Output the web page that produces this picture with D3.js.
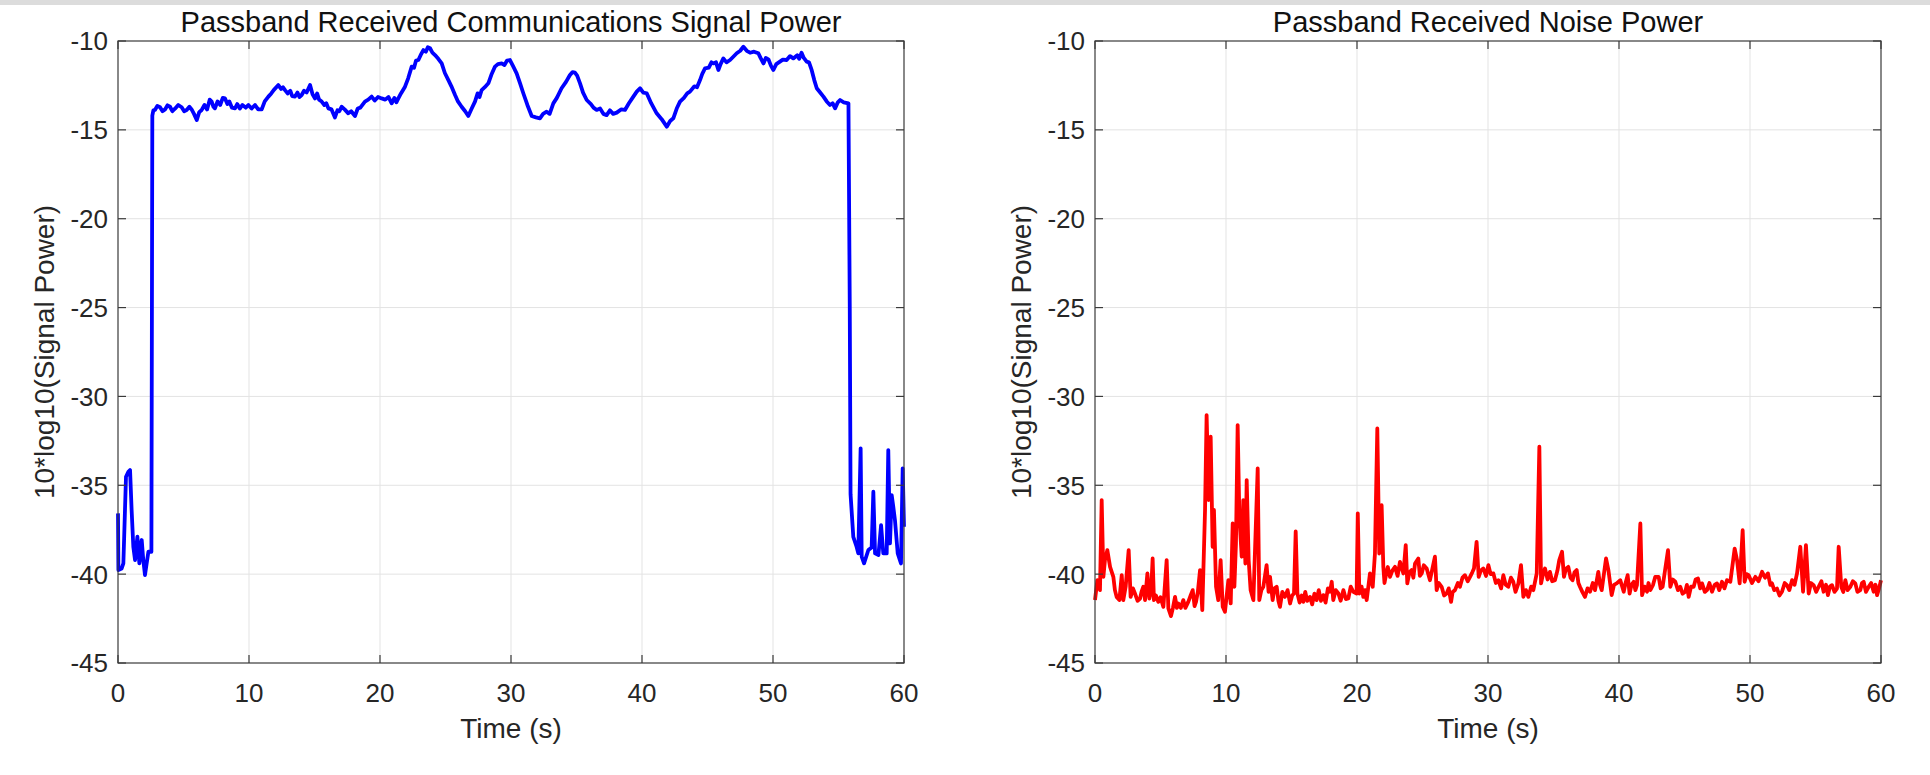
<!DOCTYPE html>
<html>
<head>
<meta charset="utf-8">
<script src="https://cdn.jsdelivr.net/npm/d3@7"></script>
<style>
	body { margin: 0; background: #fff; }
	svg { display: block; font-family: "Liberation Sans", Arial, Helvetica, sans-serif; }
	.grid line { stroke: #e3e3e3; stroke-width: 1; }
	.frame { fill: none; stroke: #3a3a3a; stroke-width: 1.2; }
	.tick-mark { stroke: #3a3a3a; stroke-width: 1.2; }
	.tick-label { fill: #262626; font-size: 26px; }
	.axis-label { fill: #262626; font-size: 28px; }
	.chart-title { fill: #111; font-size: 29px; }
</style>
</head>
<body>
<svg id="figure" width="1930" height="775"></svg>
<script>
var xTicks = [0, 10, 20, 30, 40, 50, 60];
var yTicks = [-10, -15, -20, -25, -30, -35, -40, -45];
var titles = ["Passband Received Communications Signal Power", "Passband Received Noise Power"];
var xLabel = "Time (s)";
var yLabel = "10*log10(Signal Power)";

// communications signal [time s, dB]
var signalPoints = [
	[0, -36.58], [0.03, -39.77], [0.28, -39.68], [0.41, -39.39], [0.61, -34.52], [0.79, -34.24], [0.92, -34.14], [1.04, -36.39],
	[1.17, -38.46], [1.30, -39.21], [1.48, -37.89], [1.63, -39.39], [1.81, -38.08], [1.93, -39.21], [2.06, -40.05], [2.19, -39.39],
	[2.32, -38.74], [2.55, -38.74], [2.62, -14.2],
	[2.70, -13.9], [2.82, -13.88], [3.0, -13.65], [3.21, -13.73], [3.4, -13.95], [3.59, -13.85], [3.78, -13.62], [3.97, -13.7],
	[4.15, -13.95], [4.35, -13.81], [4.6, -13.6], [4.86, -13.73], [5.05, -13.95], [5.24, -13.88], [5.45, -13.7], [5.62, -13.85],
	[5.8, -14.1], [6.01, -14.45], [6.2, -14.0], [6.39, -13.88], [6.6, -13.6], [6.8, -13.85], [7.0, -13.3], [7.15, -13.41],
	[7.28, -13.7], [7.40, -13.79], [7.6, -13.4], [7.8, -13.6], [8.0, -13.2], [8.17, -13.23], [8.35, -13.55], [8.5, -13.4],
	[8.7, -13.75], [8.93, -13.79], [9.1, -13.55], [9.3, -13.8], [9.5, -13.6], [9.75, -13.75], [9.95, -13.6], [10.2, -13.8],
	[10.46, -13.6], [10.7, -13.85], [10.97, -13.85], [11.2, -13.4], [11.48, -13.13], [11.7, -12.95], [11.9, -12.75], [12.24, -12.48],
	[12.45, -12.7], [12.6, -12.6], [12.75, -12.76], [12.95, -12.95], [13.15, -12.8], [13.3, -13.1], [13.51, -13.13], [13.7, -12.9],
	[13.85, -13.15], [14.02, -13.04], [14.2, -12.8], [14.4, -12.9], [14.66, -12.48], [14.85, -13.0], [15.04, -13.23], [15.2, -12.95],
	[15.35, -13.3], [15.55, -13.41], [15.75, -13.6], [15.9, -13.5], [16.06, -13.79], [16.3, -13.85], [16.56, -14.3], [16.75, -13.9],
	[16.9, -13.95], [17.07, -13.7], [17.3, -13.85], [17.58, -14.07], [17.8, -13.95], [18.09, -14.22], [18.3, -13.8], [18.5, -13.75],
	[18.85, -13.41], [19.1, -13.3], [19.36, -13.13], [19.6, -13.35], [19.85, -13.15], [20.13, -13.23], [20.4, -13.3], [20.65, -13.15],
	[20.89, -13.51], [21.1, -13.2], [21.25, -13.45], [21.40, -13.23], [21.6, -12.95], [21.91, -12.57], [22.15, -12.1], [22.42, -11.44],
	[22.6, -11.5], [22.75, -11.1], [22.93, -11.07], [23.1, -10.8], [23.31, -10.51], [23.5, -10.6], [23.65, -10.35], [23.82, -10.41],
	[24.0, -10.65], [24.20, -10.79], [24.45, -11.0], [24.71, -11.26], [24.95, -11.8], [25.22, -12.2], [25.45, -12.55], [25.73, -13.04],
	[25.95, -13.4], [26.23, -13.7], [26.5, -13.95], [26.74, -14.22], [27.0, -13.8], [27.25, -13.41], [27.45, -12.95], [27.6, -13.15],
	[27.76, -12.76], [28.0, -12.6], [28.27, -12.38], [28.5, -11.9], [28.78, -11.44], [29.0, -11.3], [29.29, -11.26], [29.5, -11.35],
	[29.7, -11.1], [29.92, -11.07], [30.15, -11.4], [30.43, -11.82], [30.7, -12.4], [30.94, -12.94], [31.25, -13.6], [31.58, -14.22],
	[31.9, -14.3], [32.21, -14.35], [32.45, -14.1], [32.72, -13.98], [32.95, -14.1], [33.23, -13.51], [33.5, -13.2], [33.86, -12.66],
	[34.2, -12.3], [34.50, -11.91], [34.7, -11.75], [34.88, -11.78], [35.05, -11.95], [35.27, -12.38], [35.5, -12.9], [35.78, -13.32],
	[36.1, -13.55], [36.3, -13.75], [36.54, -13.88], [36.8, -13.8], [37.05, -14.1], [37.30, -14.17], [37.55, -13.9], [37.8, -14.1],
	[38.07, -14.03], [38.4, -13.85], [38.70, -13.88], [39.0, -13.5], [39.34, -13.13], [39.6, -12.85], [39.85, -12.66], [40.1, -12.9],
	[40.36, -12.94], [40.7, -13.5], [41.12, -14.07], [41.5, -14.4], [41.89, -14.82], [42.15, -14.5], [42.39, -14.35], [42.65, -13.8],
	[42.90, -13.41], [43.2, -13.2], [43.45, -12.95], [43.66, -12.85], [44.0, -12.55], [44.2, -12.6], [44.43, -12.2], [44.6, -11.85],
	[44.81, -11.54], [45.1, -11.5], [45.3, -11.2], [45.45, -11.26], [45.65, -11.2], [45.83, -11.63], [46.0, -11.3], [46.21, -10.98],
	[46.45, -11.2], [46.72, -11.07], [46.95, -10.9], [47.23, -10.69], [47.5, -10.55], [47.74, -10.32], [48.0, -10.55], [48.25, -10.66],
	[48.55, -10.6], [48.88, -10.69], [49.05, -10.95], [49.27, -11.26], [49.45, -10.95], [49.65, -11.03], [49.85, -11.4], [50.03, -11.63],
	[50.25, -11.3], [50.53, -11.16], [50.75, -11.05], [51.04, -11.07], [51.3, -10.85], [51.55, -10.98], [51.85, -10.8], [52.0, -11.0],
	[52.18, -10.66], [52.35, -10.95], [52.57, -11.16], [52.75, -11.2], [52.95, -11.63], [53.15, -12.2], [53.34, -12.66], [53.6, -12.9],
	[53.85, -13.13], [54.1, -13.4], [54.35, -13.6], [54.55, -13.5], [54.74, -13.79], [54.95, -13.45], [55.12, -13.32], [55.4, -13.45],
	[55.76, -13.51], [55.86, -25.0], [55.92, -35.5], [56.13, -37.9], [56.38, -38.46], [56.51, -38.83], [56.69, -32.92], [56.77, -39.02],
	[56.95, -39.39], [57.28, -38.64], [57.53, -38.5], [57.66, -35.36], [57.79, -38.83], [58.05, -38.92], [58.25, -37.24], [58.42, -38.83],
	[58.68, -38.83], [58.80, -33.02], [58.93, -38.27], [59.06, -35.55], [59.18, -36.2], [59.31, -36.96], [59.52, -38.83], [59.77, -39.4],
	[59.90, -34.05], [60, -37.33]
];

// noise [time s, dB]
var noisePoints = [
	[0, -41.46], [0.18, -40.34], [0.38, -40.9], [0.51, -35.83], [0.64, -40.15], [0.76, -39.21], [0.94, -38.65], [1.15, -39.59],
	[1.40, -40.15], [1.52, -40.9], [1.65, -41.28], [1.86, -41.46], [2.04, -40.06], [2.16, -41.46], [2.34, -40.71], [2.57, -38.65],
	[2.72, -41.28], [2.9, -40.8], [3.05, -41.09], [3.25, -41.5], [3.44, -41.37], [3.55, -41.0], [3.69, -40.71], [3.82, -41.46],
	[4.00, -39.96], [4.15, -41.37], [4.28, -41.0], [4.40, -39.12], [4.50, -41.46], [4.65, -41.2], [4.83, -41.56], [5.0, -41.3],
	[5.22, -41.84], [5.47, -39.21], [5.60, -41.93], [5.80, -42.36], [5.95, -41.9], [6.11, -41.28], [6.25, -41.9], [6.36, -41.65],
	[6.55, -41.9], [6.74, -41.46], [6.9, -41.9], [7.12, -41.56], [7.3, -41.2], [7.46, -40.9], [7.6, -41.8], [7.71, -41.56],
	[7.85, -41.0], [8.02, -39.77], [8.19, -42.03], [8.40, -36.39], [8.52, -31.05], [8.68, -35.83], [8.83, -32.27], [8.98, -38.46],
	[9.08, -36.39], [9.24, -40.71], [9.41, -41.46], [9.59, -39.21], [9.75, -41.84], [9.92, -42.12], [10.18, -40.34], [10.36, -41.65],
	[10.51, -37.15], [10.64, -40.71], [10.76, -38.27], [10.89, -31.61], [11.02, -36.77], [11.20, -39.02], [11.32, -35.83], [11.48, -39.4],
	[11.58, -34.71], [11.73, -39.21], [11.88, -40.9], [12.09, -41.46], [12.42, -34.05], [12.54, -41.46], [12.7, -40.9], [12.85, -40.71],
	[13.10, -39.49], [13.25, -41.0], [13.36, -40.15], [13.56, -41.46], [13.7, -40.8], [13.87, -40.71], [14.0, -41.5], [14.12, -41.84],
	[14.3, -41.0], [14.50, -41.28], [14.7, -40.9], [14.89, -41.65], [15.05, -41.2], [15.19, -41.09], [15.32, -37.6], [15.45, -41.09],
	[15.62, -41.6], [15.78, -41.2], [15.90, -41.56], [16.05, -41.0], [16.2, -41.5], [16.41, -41.28], [16.58, -41.7], [16.75, -41.1],
	[16.92, -41.46], [17.08, -40.9], [17.25, -41.5], [17.43, -41.18], [17.6, -41.6], [17.78, -40.8], [17.94, -40.99], [18.07, -40.43],
	[18.19, -41.46], [18.38, -40.9], [18.58, -41.09], [18.75, -41.5], [18.96, -40.9], [19.15, -41.4], [19.34, -41.37], [19.52, -40.7],
	[19.72, -40.99], [19.97, -41.09], [20.06, -36.58], [20.18, -41.09], [20.35, -40.7], [20.48, -41.28], [20.62, -40.9], [20.74, -41.46],
	[20.99, -39.96], [21.20, -40.71], [21.37, -38.84], [21.55, -31.8], [21.70, -38.84], [21.88, -36.12], [22.01, -39.59], [22.1, -40.5],
	[22.21, -40.06], [22.35, -39.6], [22.52, -40.15], [22.7, -39.8], [22.90, -39.59], [23.1, -40.1], [23.28, -39.31], [23.54, -39.96],
	[23.72, -38.37], [23.84, -40.52], [24.0, -39.9], [24.17, -39.77], [24.3, -40.2], [24.43, -39.4], [24.68, -39.12], [24.8, -40.1],
	[24.94, -39.96], [25.1, -39.5], [25.32, -39.68], [25.57, -40.34], [25.95, -39.02], [26.08, -40.9], [26.25, -40.5], [26.46, -40.71],
	[26.65, -41.2], [26.84, -41.09], [27.0, -40.8], [27.18, -41.56], [27.3, -41.0], [27.48, -40.9], [27.7, -40.5], [27.86, -40.71],
	[28.05, -40.2], [28.24, -40.06], [28.45, -40.4], [28.63, -40.15], [28.8, -39.9], [28.93, -39.68], [29.13, -38.18], [29.29, -40.15],
	[29.45, -39.8], [29.64, -39.68], [29.85, -40.1], [30.03, -39.49], [30.2, -40.0], [30.41, -39.96], [30.6, -40.5], [30.79, -40.34],
	[31.0, -40.8], [31.17, -40.06], [31.35, -40.6], [31.55, -40.71], [31.75, -40.2], [31.93, -40.43], [32.1, -41.0], [32.32, -40.52],
	[32.52, -39.49], [32.70, -41.28], [32.9, -40.9], [33.08, -41.28], [33.3, -40.7], [33.46, -40.9], [33.72, -39.96], [33.92, -32.83],
	[34.05, -40.52], [34.2, -40.0], [34.35, -39.68], [34.55, -40.3], [34.73, -39.87], [34.9, -40.4], [35.11, -40.34], [35.30, -39.8],
	[35.44, -39.21], [35.65, -38.74], [35.80, -40.15], [35.95, -39.7], [36.13, -39.59], [36.3, -40.2], [36.46, -40.34], [36.6, -39.9],
	[36.77, -39.77], [36.9, -40.5], [37.02, -40.71], [37.2, -41.0], [37.40, -41.28], [37.6, -40.8], [37.79, -40.99], [38.0, -40.5],
	[38.17, -40.9], [38.42, -39.87], [38.55, -40.6], [38.68, -40.9], [39.01, -39.12], [39.19, -39.77], [39.44, -41.18], [39.62, -40.6],
	[39.82, -40.52], [40.10, -40.34], [40.36, -40.99], [40.5, -40.5], [40.66, -40.06], [40.81, -41.09], [40.95, -40.6], [41.12, -40.43],
	[41.25, -40.9], [41.37, -40.62], [41.63, -37.15], [41.76, -41.18], [41.95, -40.7], [42.14, -40.99], [42.25, -40.5], [42.39, -40.9],
	[42.6, -40.6], [42.77, -40.15], [43.03, -40.15], [43.18, -40.8], [43.33, -40.71], [43.74, -38.65], [43.92, -40.71], [44.1, -40.3],
	[44.30, -40.43], [44.5, -40.9], [44.68, -40.71], [44.85, -41.1], [45.06, -40.99], [45.18, -40.6], [45.32, -41.28], [45.5, -40.7],
	[45.70, -40.71], [45.85, -40.3], [46.03, -40.24], [46.2, -40.8], [46.34, -40.52], [46.55, -41.0], [46.72, -40.9], [46.9, -40.5],
	[47.10, -40.99], [47.3, -40.6], [47.48, -40.52], [47.65, -40.9], [47.86, -40.43], [48.05, -40.8], [48.24, -40.34], [48.50, -40.43],
	[48.83, -38.56], [49.01, -39.21], [49.21, -40.52], [49.44, -37.53], [49.59, -40.43], [49.75, -40.0], [49.90, -40.06], [50.15, -40.5],
	[50.41, -40.15], [50.65, -40.4], [50.92, -39.87], [51.15, -40.2], [51.37, -39.96], [51.55, -40.6], [51.68, -40.52], [51.85, -40.9],
	[52.06, -40.81], [52.25, -41.2], [52.44, -40.99], [52.65, -40.5], [52.82, -40.62], [53.0, -40.9], [53.21, -40.34], [53.4, -40.6],
	[53.59, -39.96], [53.84, -38.46], [54.05, -40.99], [54.27, -38.37], [54.48, -41.09], [54.65, -40.5], [54.86, -40.62], [55.05, -41.0],
	[55.24, -40.71], [55.45, -40.4], [55.62, -40.99], [55.8, -40.6], [55.95, -41.18], [56.1, -40.7], [56.26, -40.62], [56.45, -41.0],
	[56.64, -40.81], [56.77, -38.46], [56.97, -40.71], [57.12, -41.0], [57.28, -40.34], [57.45, -40.9], [57.66, -40.71], [57.85, -40.4],
	[58.04, -40.52], [58.2, -41.0], [58.42, -40.9], [58.55, -40.5], [58.68, -40.43], [58.85, -41.0], [59.06, -40.71], [59.25, -40.5],
	[59.44, -40.99], [59.58, -40.6], [59.70, -41.18], [59.85, -40.8], [60, -40.34]
];

var svg = d3.select("#figure");
var panelTop = 41;
var panelBottom = 663;
var panels = [
	{ left: 118, right: 904, points: signalPoints, color: "#0000ff", title: titles[0] },
	{ left: 1095, right: 1881, points: noisePoints, color: "#ff0000", title: titles[1] }
];

// grey strip along the top edge of the screenshot
svg.append("rect").attr("x", 0).attr("y", 0).attr("width", 1930).attr("height", 5).attr("fill", "#dcdcdc");

var drawPanel = function(p) {
	var x = d3.scaleLinear().domain([0, 60]).range([p.left, p.right]);
	var y = d3.scaleLinear().domain([-45, -10]).range([panelBottom, panelTop]);
	var g = svg.append("g");

	var grid = g.append("g").attr("class", "grid");
	grid.selectAll(".gx").data(xTicks.slice(1, -1)).enter().append("line")
		.attr("x1", function(d) { return x(d); }).attr("x2", function(d) { return x(d); })
		.attr("y1", panelTop).attr("y2", panelBottom);
	grid.selectAll(".gy").data(yTicks.slice(1, -1)).enter().append("line")
		.attr("y1", function(d) { return y(d); }).attr("y2", function(d) { return y(d); })
		.attr("x1", p.left).attr("x2", p.right);

	var line = d3.line()
		.x(function(d) { return x(d[0]); })
		.y(function(d) { return y(d[1]); });
	g.append("path").datum(p.points)
		.attr("d", line)
		.attr("fill", "none")
		.attr("stroke", p.color)
		.attr("stroke-width", 3.8)
		.attr("stroke-linejoin", "round");

	g.append("rect").attr("class", "frame")
		.attr("x", p.left).attr("y", panelTop)
		.attr("width", p.right - p.left).attr("height", panelBottom - panelTop);

	// inward ticks on all four sides, MATLAB style
	var tl = 8;
	xTicks.forEach(function(t) {
		g.append("line").attr("class", "tick-mark").attr("x1", x(t)).attr("x2", x(t)).attr("y1", panelBottom).attr("y2", panelBottom - tl);
		g.append("line").attr("class", "tick-mark").attr("x1", x(t)).attr("x2", x(t)).attr("y1", panelTop).attr("y2", panelTop + tl);
	});
	yTicks.forEach(function(t) {
		g.append("line").attr("class", "tick-mark").attr("y1", y(t)).attr("y2", y(t)).attr("x1", p.left).attr("x2", p.left + tl);
		g.append("line").attr("class", "tick-mark").attr("y1", y(t)).attr("y2", y(t)).attr("x1", p.right).attr("x2", p.right - tl);
	});

	g.selectAll(".xl").data(xTicks).enter().append("text")
		.attr("class", "tick-label")
		.attr("x", function(d) { return x(d); })
		.attr("y", 702)
		.attr("text-anchor", "middle")
		.text(function(d) { return d; });
	g.selectAll(".yl").data(yTicks).enter().append("text")
		.attr("class", "tick-label")
		.attr("x", p.left - 10)
		.attr("y", function(d) { return y(d); })
		.attr("dy", "0.36em")
		.attr("text-anchor", "end")
		.text(function(d) { return d; });

	g.append("text").attr("class", "chart-title")
		.attr("x", (p.left + p.right) / 2).attr("y", 32)
		.attr("text-anchor", "middle")
		.text(p.title);
	g.append("text").attr("class", "axis-label")
		.attr("x", (p.left + p.right) / 2).attr("y", 738)
		.attr("text-anchor", "middle")
		.text(xLabel);
	g.append("text").attr("class", "axis-label")
		.attr("transform", "translate(" + (p.left - 64) + "," + ((panelTop + panelBottom) / 2) + ") rotate(-90)")
		.attr("text-anchor", "middle")
		.text(yLabel);
};

panels.forEach(drawPanel);
</script>
</body>
</html>
